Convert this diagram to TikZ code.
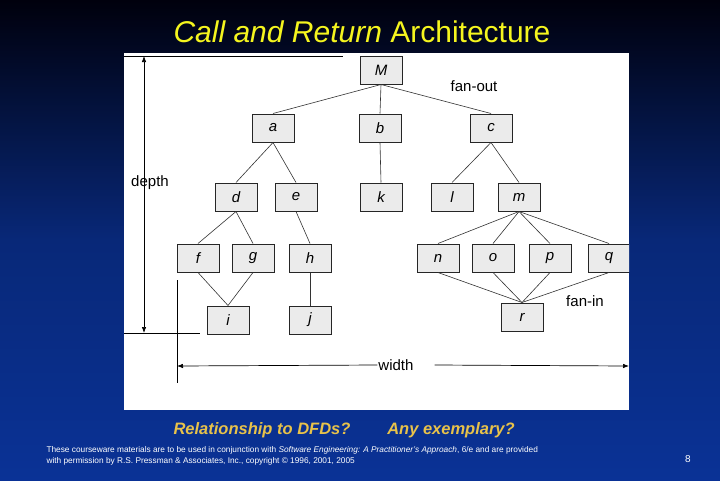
\documentclass[tikz,border=0pt]{standalone}
\usepackage{fontspec}
\setmainfont{Liberation Sans}
\usetikzlibrary{arrows.meta}
\definecolor{ttl}{HTML}{F5F51E}
\definecolor{gold}{HTML}{E8C24A}
\definecolor{boxfill}{HTML}{EBEBEB}
\tikzset{
  mod/.style={draw=black!85, line width=1pt, fill=boxfill, minimum width=42pt, minimum height=28pt, inner sep=0pt, font=\fontsize{15}{15}\selectfont\itshape},
  link/.style={draw=black!80, line width=0.6pt},
  lab/.style={font=\fontsize{15}{15}\selectfont, inner sep=1pt},
  dim/.style={draw=black, line width=0.7pt}
}
\begin{document}
\begin{tikzpicture}[x=1pt,y=-1pt]
\shade[top color=black!95!blue, bottom color={rgb,255:red,10;green,50;blue,150}, middle color={rgb,255:red,8;green,40;blue,120}] (0,0) rectangle (720,480);
\useasboundingbox (0,0) rectangle (720,480);
\node[font=\fontsize{30}{30}\selectfont, text=ttl] (title) at (362,32) {\textit{Call and Return} Architecture};
\fill[white] (124,53) rectangle (629,410);
\begin{scope}
\clip (124,53) rectangle (629,410);
\node[mod] (M) at (381,70) {M};
\node[mod] (a) at (273,128) {a};
\node[mod] (b) at (380,128) {b};
\node[mod] (c) at (491,128) {c};
\node[mod] (d) at (236,197) {d};
\node[mod] (e) at (296,197) {e};
\node[mod] (k) at (381,197) {k};
\node[mod] (l) at (452,197) {l};
\node[mod] (m) at (519,197) {m};
\node[mod] (f) at (198,258) {f};
\node[mod] (g) at (253,258) {g};
\node[mod] (h) at (310,258) {h};
\node[mod] (n) at (438,258) {n};
\node[mod] (o) at (493,258) {o};
\node[mod] (p) at (550,258) {p};
\node[mod] (q) at (609,258) {q};
\node[mod] (i) at (228,320) {i};
\node[mod] (j) at (310,320) {j};
\node[mod] (r) at (522,317) {r};
\draw[link] (M.south) -- (a.north);
\draw[link] (M.south) -- (b.north);
\draw[link] (M.south) -- (c.north);
\draw[link] (a.south) -- (d.north);
\draw[link] (a.south) -- (e.north);
\draw[link] (b.south) -- (k.north);
\draw[link] (c.south) -- (l.north);
\draw[link] (c.south) -- (m.north);
\draw[link] (d.south) -- (f.north);
\draw[link] (d.south) -- (g.north);
\draw[link] (e.south) -- (h.north);
\draw[link] (m.south) -- (n.north);
\draw[link] (m.south) -- (o.north);
\draw[link] (m.south) -- (p.north);
\draw[link] (m.south) -- (q.north);
\draw[link] (f.south) -- (i.north);
\draw[link] (g.south) -- (i.north);
\draw[link] (h.south) -- (j.north);
\draw[link] (n.south) -- (r.north);
\draw[link] (o.south) -- (r.north);
\draw[link] (p.south) -- (r.north);
\draw[link] (q.south) -- (r.north);
\node[lab] (fo) at (474,86) {fan-out};
\node[lab] (fi) at (585,301) {fan-in};
\node[lab] (dp) at (150,183) {depth};
\node[lab] (w) at (396,365) {width};
\coordinate (t1) at (124,56); \coordinate (t2) at (343,56);
\coordinate (b1) at (124,333); \coordinate (b2) at (200,333);
\coordinate (v1) at (177,280); \coordinate (v2) at (177,383);
\coordinate (dt) at (144,56); \coordinate (db) at (144,333);
\coordinate (wl) at (177,366); \coordinate (wr) at (629,366);
\draw[dim] (t1) -- (t2);
\draw[dim] (b1) -- (b2);
\draw[dim] (v1) -- (v2);
\draw[dim,{Latex[length=6pt]}-{Latex[length=6pt]}] (dt) -- (db);
\draw[dim,{Latex[length=6pt]}-] (wl) -- (w.west);
\draw[dim,-{Latex[length=6pt]}] ([xshift=20pt]w.east) -- (wr);
\end{scope}
\node[font=\fontsize{16.5}{16.5}\selectfont\bfseries\itshape, text=gold] (q1) at (262,430) {Relationship to DFDs?};
\node[font=\fontsize{16.5}{16.5}\selectfont\bfseries\itshape, text=gold] (q2) at (451,430) {Any exemplary?};
\node[font=\fontsize{8.3}{11}\selectfont, text=white, align=left, anchor=west] (foot) at (43,456) {These courseware materials are to be used in conjunction with \textit{Software Engineering: A Practitioner's Approach}, 6/e and are provided\\with permission by R.S. Pressman \& Associates, Inc., copyright © 1996, 2001, 2005};
\node[font=\fontsize{10}{10}\selectfont, text=white] (pg) at (688,459) {8};
\end{tikzpicture}
\end{document}
